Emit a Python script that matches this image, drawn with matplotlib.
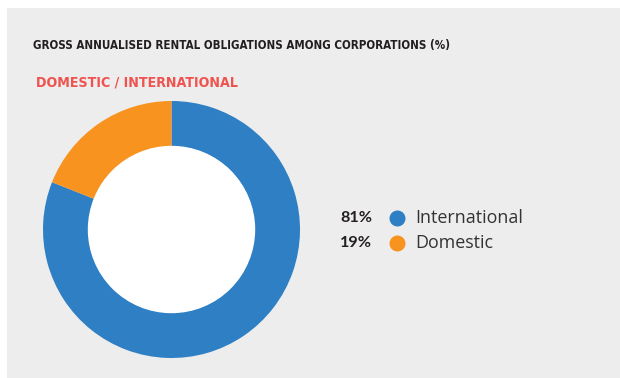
import matplotlib
matplotlib.use("Agg")
import matplotlib.pyplot as plt
from matplotlib import font_manager
from matplotlib.font_manager import FontProperties
from matplotlib.patches import Rectangle

# Share of gross annualised rental obligations
labels = ["International", "Domestic"]
values = [81, 19]
colors = ["#2e7fc4", "#f7931e"]

title = "GROSS ANNUALISED RENTAL OBLIGATIONS AMONG CORPORATIONS (%)"
subtitle = "DOMESTIC / INTERNATIONAL"


def narrow_bold_font():
    """Pick the narrowest bold face available for the headings."""
    order = {"ultra-condensed": 0, "extra-condensed": 1, "condensed": 2,
             "semi-condensed": 3}
    best = None
    for f in font_manager.fontManager.ttflist:
        w = f.weight if isinstance(f.weight, int) else 700 if "bold" in str(f.weight) else 400
        if w < 600 or "italic" in str(f.style) or "oblique" in str(f.style):
            continue
        rank = order.get(str(f.stretch))
        if rank is None and ("Condensed" in f.name or "Narrow" in f.name):
            rank = 2
        if rank is None:
            continue
        if best is None or rank < best[0]:
            best = (rank, f.fname)
    if best:
        return FontProperties(fname=best[1])
    return FontProperties(family="DejaVu Sans", weight="bold")


names = {f.name for f in font_manager.fontManager.ttflist}
body = "Open Sans" if "Open Sans" in names else "DejaVu Sans"
bold_family = "Lato" if "Lato" in names else "DejaVu Sans"
head_fp = narrow_bold_font()
pct_fp = FontProperties(family=bold_family, weight="bold")
name_fp = FontProperties(family=body, weight="normal", stretch="normal")

W, H = 620, 378
fig = plt.figure(figsize=(W / 100, H / 100), dpi=100)
fig.patch.set_facecolor("white")
fig.add_artist(Rectangle((7 / W, 0), 1 - 7 / W, 1 - 8 / H, transform=fig.transFigure,
                         facecolor="#ededed", edgecolor="none", zorder=0))

t1 = fig.text(33 / W, 1 - 46 / H, title, fontproperties=head_fp, fontsize=16,
              color="#231f20", va="center", ha="left")
t2 = fig.text(36 / W, 1 - 82 / H, subtitle, fontproperties=head_fp, fontsize=16,
              color="#ef5350", va="center", ha="left")

# Donut
cx, cy, r = 171.5, 229.5, 128.5
ax = fig.add_axes([(cx - r) / W, 1 - (cy + r) / H, 2 * r / W, 2 * r / H])
ax.pie(values, colors=colors, startangle=90, counterclock=False, radius=1,
       wedgeprops=dict(width=1 - 83 / 128.5, edgecolor="none"))
ax.add_patch(plt.Circle((0, 0), 83 / 128.5, color="white", zorder=3))
ax.set_xlim(-1, 1)
ax.set_ylim(-1, 1)
ax.set_aspect("equal")
ax.axis("off")

# Legend rows
rows_y = [218, 243]
pct_texts, name_texts = [], []
for lab, v, c, y in zip(labels, values, colors, rows_y):
    fy = 1 - y / H
    pct_texts.append(fig.text(340 / W, fy, f"{v}%", fontproperties=pct_fp, fontsize=11.5,
                              color="#231f20", va="center", ha="left"))
    fig.add_artist(plt.Line2D([396.5 / W], [fy], marker="o", markersize=10.5,
                              color=c, transform=fig.transFigure))
    name_texts.append(fig.text(415 / W, fy, lab, fontproperties=name_fp, fontsize=11.5,
                               color="#333333", va="center", ha="left"))

# Fit texts to their widths
renderer = fig.canvas.get_renderer()
fits = [(t1, 417, 16), (t2, 204, 16), (pct_texts[0], 32, 11.5), (name_texts[0], 108, 11.5)]
for t, target, base in fits:
    w = t.get_window_extent(renderer).width
    size = base * target / w
    if t in pct_texts:
        for p in pct_texts:
            p.set_fontsize(size)
    elif t in name_texts:
        for n in name_texts:
            n.set_fontsize(size)
    else:
        t.set_fontsize(min(base, size))

fig.savefig("out.png", dpi=100)
